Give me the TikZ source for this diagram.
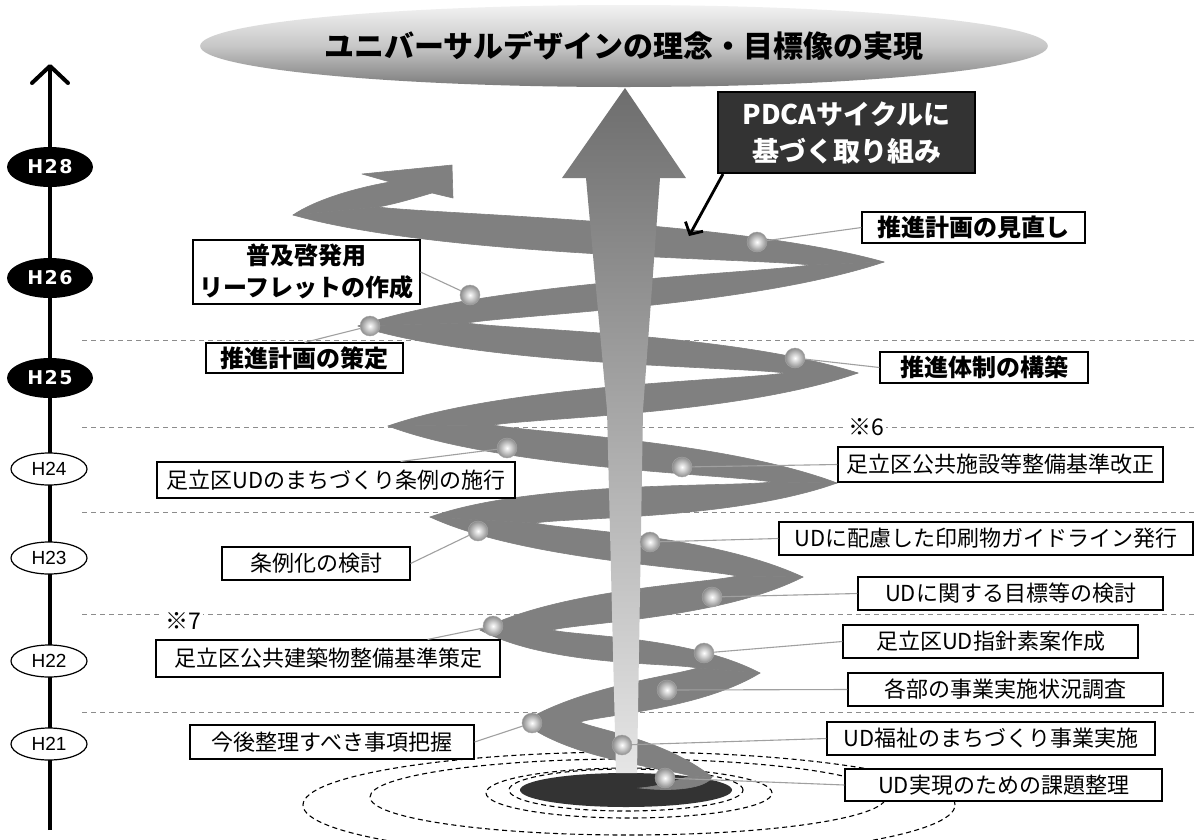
\documentclass[tikz,border=0pt]{standalone}
\usepackage{fontspec}
\usetikzlibrary{calc,shapes.geometric,arrows.meta}
\newfontfamily\jp{Noto Sans CJK JP}
\newfontfamily\hfont{DejaVu Sans}[LetterSpace=8]
\newfontfamily\hlfont{Liberation Sans}
\definecolor{rib}{HTML}{808080}
\definecolor{darkbox}{HTML}{333333}
\definecolor{leadgray}{HTML}{A0A0A0}
\definecolor{dashgray}{HTML}{8C8C8C}
\newcommand\ribsweep[5]{%
  \fill[rib,draw=rib,line width=0.6pt,line join=round] (#1) .. controls ($(#1)!0.25!(#3)+(0,-#5)$) and ($(#4)!0.12!(#1)+(0,1)$) .. (#4) -- (#3) .. controls ($(#3)!0.25!(#1)+(0,#5)$) and ($(#2)!0.12!(#3)+(0,-1)$) .. (#2) -- cycle;}
\begin{document}
\begin{tikzpicture}[x=1pt,y=-1pt,
  box/.style={draw=black,line width=1.1pt,fill=white,inner sep=0pt,font=\jp\fontsize{22}{26}\selectfont},
  bbox/.style={box,font=\jp\bfseries\fontsize{24}{32}\selectfont},
  pearl/.style={circle,minimum size=20pt,inner sep=0pt,inner color=white,outer color=black!45,draw=black!35,line width=0.4pt},
  lead/.style={draw=leadgray,line width=1.1pt},
  hdash/.style={draw=dashgray,line width=1pt,dash pattern=on 5pt off 4pt},
  edash/.style={draw=black,line width=1.1pt,dash pattern=on 5pt off 3.5pt},
  hblk/.style={ellipse,fill=black,text=white,minimum width=86pt,minimum height=40pt,inner sep=0pt,font=\hfont\bfseries\fontsize{19}{19}\selectfont},
  hwht/.style={ellipse,draw=black,line width=1.2pt,fill=white,minimum width=76pt,minimum height=32pt,inner sep=0pt,font=\hlfont\fontsize{19}{19}\selectfont},
  note/.style={fill=white,inner sep=2pt,font=\jp\fontsize{23}{23}\selectfont}
]
\fill[white] (0,0) rectangle (1197,839);
\useasboundingbox (0,0) rectangle (1197,839);

% goal ellipse
\node[ellipse,minimum width=820pt,minimum height=82pt,inner sep=0pt,top color=black!5,bottom color=black!52,middle color=black!22,
  font=\jp\bfseries\fontsize{30}{30}\selectfont] (goal) at (624,46) {ユニバーサルデザインの理念・目標像の実現};

% horizontal dashed lines
\foreach \yy [count=\i] in {340,427,512,614,712} {
  \coordinate (dla\i) at (82,\yy); \coordinate (dlb\i) at (1197,\yy);
  \draw[hdash] (dla\i) -- (dlb\i);
}
\node[note] (n6) at (866,427) {※6};
\node[note] (n7) at (183,621) {※7};

% base ellipses
\draw[edash] (629,805) ellipse [x radius=326pt,y radius=53pt];
\draw[edash] (628,797) ellipse [x radius=258pt,y radius=38pt];
\draw[edash] (629,793) ellipse [x radius=143pt,y radius=25pt];
\draw[edash] (626,790) ellipse [x radius=117pt,y radius=21pt];
\fill[darkbox] (626,790) ellipse [x radius=106pt,y radius=17pt];

% ribbon
\coordinate (T0) at (640,788);
\coordinate (T1) at (712,777); \coordinate (N1) at (690,776);
\coordinate (T2) at (523,722); \coordinate (N2) at (580,722);
\coordinate (T3) at (760,673); \coordinate (N3) at (697,668);
\coordinate (T4) at (480,630); \coordinate (N4) at (552,630);
\coordinate (T5) at (803,577); \coordinate (N5) at (737,576);
\coordinate (T6) at (430,517); \coordinate (N6) at (535,523);
\coordinate (T7) at (837,483); \coordinate (N7) at (772,482);
\coordinate (T8) at (388,426); \coordinate (N8) at (493,425);
\coordinate (T9) at (858,373); \coordinate (N9) at (785,373);
\coordinate (T10) at (358,326); \coordinate (N10) at (467,323);
\coordinate (T11) at (884,262); \coordinate (N11) at (810,265);
\coordinate (T12) at (293,215); \coordinate (N12) at (378,207);

\fill[rib,draw=rib,line width=0.6pt] (T0) .. controls (662,786) and (678,780) .. (N1) -- (T1) .. controls (706,788) and (675,792) .. (T0) -- cycle;
\ribsweep{T1}{N1}{T2}{N2}{24}
\ribsweep{T2}{N2}{T3}{N3}{24}
\ribsweep{T3}{N3}{T4}{N4}{26}
\ribsweep{T4}{N4}{T5}{N5}{28}
\ribsweep{T5}{N5}{T6}{N6}{28}
\ribsweep{T6}{N6}{T7}{N7}{28}
\ribsweep{T7}{N7}{T8}{N8}{28}
\ribsweep{T8}{N8}{T9}{N9}{28}
\ribsweep{T9}{N9}{T10}{N10}{28}
\ribsweep{T10}{N10}{T11}{N11}{28}
\ribsweep{T11}{N11}{T12}{N12}{30}
\fill[rib,draw=rib,line width=0.6pt,line join=round] (T12) .. controls (315,200) and (355,188) .. (390,182) -- (362,174) -- (452,165) -- (453,198) -- (432,193) .. controls (415,198) and (395,204) .. (N12) -- cycle;

% central arrow
\shade[top color=black!57,middle color=black!42,bottom color=black!10] (625,88) -- (686,178) -- (660,178) -- (643,410) -- (637,773) -- (616,773) -- (607,410) -- (586,178) -- (562,178) -- cycle;

% pearls
\node[pearl] (k1) at (757,242) {};
\node[pearl] (k2) at (470,295) {};
\node[pearl] (k3) at (370,326) {};
\node[pearl] (k4) at (795,358) {};
\node[pearl] (k5) at (507,448) {};
\node[pearl] (k6) at (682,467) {};
\node[pearl] (k7) at (478,531) {};
\node[pearl] (k8) at (650,542) {};
\node[pearl] (k9) at (712,597) {};
\node[pearl] (k10) at (493,626) {};
\node[pearl] (k11) at (704,653) {};
\node[pearl] (k12) at (667,690) {};
\node[pearl] (k13) at (532,723) {};
\node[pearl] (k14) at (622,745) {};
\node[pearl] (k15) at (665,778) {};

% boxes
\node[bbox,minimum width=223pt,minimum height=31pt] (b1) at (973.5,227.5) {推進計画の見直し};
\node[bbox,minimum width=227pt,minimum height=64pt,align=center] (b2) at (306.5,272) {普及啓発用\\リーフレットの作成};
\node[bbox,minimum width=197pt,minimum height=30pt] (b3) at (304.5,358) {推進計画の策定};
\node[bbox,minimum width=208pt,minimum height=31pt] (b4) at (984,367.5) {推進体制の構築};
\node[box,minimum width=358pt,minimum height=36pt] (b5) at (336,480) {足立区UDのまちづくり条例の施行};
\node[box,minimum width=325pt,minimum height=35pt] (b6) at (1000.5,464.5) {足立区公共施設等整備基準改正};
\node[box,minimum width=188pt,minimum height=33pt] (b7) at (316,563.5) {条例化の検討};
\node[box,minimum width=414pt,minimum height=33pt] (b8) at (986,538.5) {UDに配慮した印刷物ガイドライン発行};
\node[box,minimum width=305pt,minimum height=33pt] (b9) at (1010.5,593.5) {UDに関する目標等の検討};
\node[box,minimum width=344pt,minimum height=37pt] (b10) at (328,658.5) {足立区公共建築物整備基準策定};
\node[box,minimum width=295pt,minimum height=33pt] (b11) at (990.5,641.5) {足立区UD指針素案作成};
\node[box,minimum width=315pt,minimum height=33pt] (b12) at (1005.5,689.5) {各部の事業実施状況調査};
\node[box,minimum width=284pt,minimum height=34pt] (b13) at (332,742) {今後整理すべき事項把握};
\node[box,minimum width=328pt,minimum height=33pt] (b14) at (991,738.5) {UD福祉のまちづくり事業実施};
\node[box,minimum width=317pt,minimum height=32pt] (b15) at (1003.5,785) {UD実現のための課題整理};

% leads
\draw[lead] (k1) -- (b1.west);
\draw[lead] (k2) -- (b2.east);
\draw[lead] (k3) -- (b3.north);
\draw[lead] (k4) -- (b4.west);
\draw[lead] (k5) -- ($(b5.north east)+(-115,0)$);
\draw[lead] (k6) -- (b6.west);
\draw[lead] (k7) -- (b7.east);
\draw[lead] (k8) -- (b8.west);
\draw[lead] (k9) -- (b9.west);
\draw[lead] (k10) -- ($(b10.north east)+(-73,0)$);
\draw[lead] (k11) -- (b11.west);
\draw[lead] (k12) -- (b12.west);
\draw[lead] (k13) -- (b13.east);
\draw[lead] (k14) -- (b14.west);
\draw[lead] (k15) -- (b15.west);

% PDCA
\node[draw=black,line width=2pt,fill=darkbox,text=white,minimum width=257pt,minimum height=81pt,inner sep=0pt,align=center,
  font=\jp\bfseries\fontsize{27}{37}\selectfont] (pdca) at (846.5,132.5) {PDCAサイクルに\\基づく取り組み};
\coordinate (pdcaend) at (689,236);
\draw[line width=2.8pt,-{Straight Barb[length=9pt,width=20pt]}] ($(pdca.south west)+(6,0)$) -- (pdcaend);

% timeline
\coordinate (tltop) at (50,64);
\coordinate (tlbot) at (50,830);
\draw[line width=4pt,-{Straight Barb[length=17pt,width=36pt,round]}] (tlbot) -- (tltop);
\node[hblk] (h28) at (50,167) {H28};
\node[hblk] (h26) at (50,278) {H26};
\node[hblk] (h25) at (50,378) {H25};
\node[hwht] (h24) at (49,469) {H24};
\node[hwht] (h23) at (49,558) {H23};
\node[hwht] (h22) at (49,661) {H22};
\node[hwht] (h21) at (49,744) {H21};
\end{tikzpicture}
\end{document}
